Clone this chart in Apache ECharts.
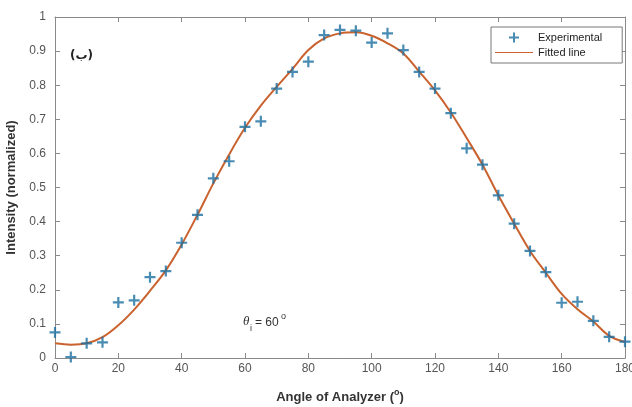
<!DOCTYPE html>
<html>
<head>
<meta charset="utf-8">
<script src="https://cdn.jsdelivr.net/npm/echarts@6/dist/echarts.min.js"></script>
<style>
html,body{margin:0;padding:0;background:#fff;}
#c{width:632px;height:407px;}
</style>
</head>
<body>
<div id="c"></div>
<script>
// Angles of analyzer (degrees)
var angles = [0,5,10,15,20,25,30,35,40,45,50,55,60,65,70,75,80,85,90,95,100,105,110,115,120,125,130,135,140,145,150,155,160,165,170,175,180];
// Experimental normalized intensity
var experimental = [0.075,0.003,0.043,0.046,0.163,0.169,0.237,0.255,0.338,0.42,0.527,0.577,0.678,0.694,0.79,0.839,0.869,0.947,0.962,0.96,0.925,0.952,0.903,0.839,0.79,0.718,0.615,0.567,0.477,0.394,0.314,0.252,0.162,0.165,0.109,0.062,0.048];
// Fitted line values
var fitted = [0.043,0.039,0.043,0.061,0.096,0.142,0.197,0.257,0.333,0.42,0.512,0.597,0.675,0.74,0.795,0.848,0.903,0.937,0.952,0.955,0.945,0.923,0.893,0.84,0.785,0.72,0.645,0.567,0.477,0.394,0.314,0.25,0.188,0.143,0.107,0.065,0.047];
var xTicks = [0,20,40,60,80,100,120,140,160,180];
var yTicks = [0,0.1,0.2,0.3,0.4,0.5,0.6,0.7,0.8,0.9,1];

var expData = angles.map(function(a,i){return [a, experimental[i]];});
var fitData = angles.map(function(a,i){return [a, fitted[i]];});

var axisColor = '#8a8a8a';
var labelColor = '#555';
var crossPath = 'path://M4,0H6V4H10V6H6V10H4V6H0V4H4Z';
var crossLegend = 'path://M0,5h0.01v0.01h-0.01Z M37.99,5h0.01v0.01h-0.01Z M18,0H20V4H24V6H20V10H18V6H14V4H18Z';
var lineLegend = 'path://M0,4.4H38V5.6H0Z';

var chart = echarts.init(document.getElementById('c'), null, {renderer:'canvas'});
chart.setOption({
  animation:false,
  backgroundColor:'#fff',
  grid:{left:55, right:7, top:17, bottom:49, containLabel:false, outerBoundsMode:'none'},
  xAxis:[{
    type:'value', min:0, max:180, interval:20,
    name:'{a|Angle of Analyzer (}{s|o}{a|)}',
    nameLocation:'middle', nameGap:30,
    nameTextStyle:{rich:{
      a:{fontFamily:'Liberation Sans, Arial', fontWeight:'bold', fontSize:13, color:'#333', verticalAlign:'bottom', lineHeight:16},
      s:{fontFamily:'Liberation Sans, Arial', fontWeight:'bold', fontSize:9, color:'#333', verticalAlign:'top', lineHeight:16}
    }},
    axisLine:{show:true, onZero:false, lineStyle:{color:axisColor, width:1}},
    axisTick:{show:true, inside:true, length:5, lineStyle:{color:axisColor}},
    axisLabel:{color:labelColor, fontSize:12, fontFamily:'Liberation Sans, Arial', margin:5,
      formatter:function(v){return xTicks.indexOf(v)>=0 ? String(v) : '';}},
    splitLine:{show:false}
  },{
    type:'value', position:'top', min:0, max:180, interval:20,
    axisLine:{show:true, onZero:false, lineStyle:{color:axisColor, width:1}},
    axisTick:{show:true, inside:true, length:5, lineStyle:{color:axisColor}},
    axisLabel:{show:false}, splitLine:{show:false}
  }],
  yAxis:[{
    type:'value', min:0, max:1, interval:0.1,
    name:'Intensity (normalized)', nameLocation:'middle', nameGap:32,
    nameTextStyle:{fontFamily:'Liberation Sans, Arial', fontWeight:'bold', fontSize:13, color:'#333'},
    axisLine:{show:true, onZero:false, lineStyle:{color:axisColor, width:1}},
    axisTick:{show:true, inside:true, length:5, lineStyle:{color:axisColor}},
    axisLabel:{color:labelColor, fontSize:12, fontFamily:'Liberation Sans, Arial', margin:9,
      formatter:function(v){
        for (var i=0;i<yTicks.length;i++){ if (Math.abs(yTicks[i]-v)<1e-9) return String(yTicks[i]); }
        return '';
      }},
    splitLine:{show:false}
  },{
    type:'value', position:'right', min:0, max:1, interval:0.1,
    axisLine:{show:true, onZero:false, lineStyle:{color:axisColor, width:1}},
    axisTick:{show:true, inside:true, length:5, lineStyle:{color:axisColor}},
    axisLabel:{show:false}, splitLine:{show:false}
  }],
  legend:{
    orient:'vertical', left:491, top:27,
    backgroundColor:'#fff', borderColor:'#777', borderWidth:1,
    padding:[5,20,5,4], itemGap:4, itemWidth:38, itemHeight:10,
    textStyle:{fontFamily:'Liberation Sans, Arial', fontSize:11, color:'#222'},
    data:[
      {name:'Experimental', icon:crossLegend, itemStyle:{color:'#1c6fa0'}},
      {name:'Fitted line', icon:lineLegend, itemStyle:{color:'#c9622e'}}
    ]
  },
  series:[{
    name:'Fitted line', type:'line', data:fitData, smooth:0.35,
    symbol:'none', z:2,
    lineStyle:{color:'#c9622e', width:2},
    itemStyle:{color:'#c9622e'}
  },{
    name:'Experimental', type:'scatter', data:expData,
    symbol:crossPath, symbolSize:11, z:3,
    itemStyle:{color:'#1c6fa0'}
  }],
  graphic:[
    {type:'text', left:70, top:50, style:{text:'(ب)', font:'bold 12px "DejaVu Sans", "Noto Sans", sans-serif', fill:'#222'}},
    {type:'text', left:243, top:315, style:{text:'θ', font:'italic 13px "Liberation Serif", "DejaVu Serif", serif', fill:'#333'}},
    {type:'text', left:250, top:324, style:{text:'i', font:'9px "Liberation Sans", Arial', fill:'#333'}},
    {type:'text', left:255, top:317, style:{text:'= 60', font:'12px "Liberation Sans", Arial', fill:'#333'}},
    {type:'text', left:281, top:312, style:{text:'o', font:'9px "Liberation Sans", Arial', fill:'#333'}}
  ]
});
</script>
</body>
</html>
